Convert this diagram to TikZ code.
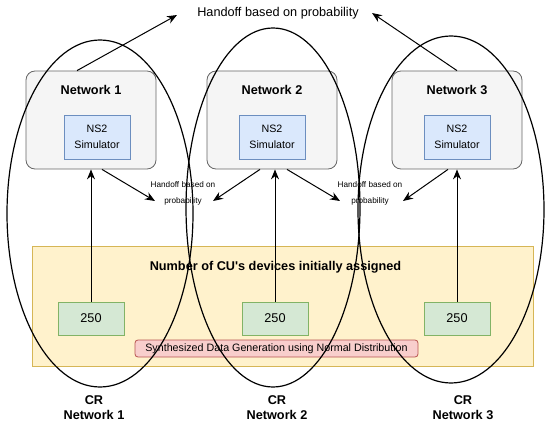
\documentclass[tikz,border=0pt]{standalone}
\usepackage{fontspec}
\setmainfont{Liberation Sans}
\usepackage{xcolor}
\usepackage{tikz}
\usetikzlibrary{arrows,arrows.meta,shapes,calc,positioning}
\definecolor{colorNET}{HTML}{F5F5F5}
\definecolor{colorNETd}{HTML}{666666}
\definecolor{colorSIM}{HTML}{DAE8FC}
\definecolor{colorSIMd}{HTML}{6C8EBF}
\definecolor{colorCU}{HTML}{D5E8D4}
\definecolor{colorCUd}{HTML}{82B366}
\definecolor{colorPOOL}{HTML}{FFF2CC}
\definecolor{colorPOOLd}{HTML}{D6B656}
\definecolor{colorGEN}{HTML}{F8CECC}
\definecolor{colorGENd}{HTML}{B85450}
\tikzset{
   every path/.style={>={Stealth[length=10pt,width=8pt]}},
   link/.style={->,draw=black,line width=1pt},
   crzone/.style={draw=black,ellipse,line width=1.2pt,inner sep=0pt},
}

\begin{document}
\begin{tikzpicture}[x=1pt, y=-1pt,
    net/.style={draw=colorNETd, fill=colorNET, rounded corners=9pt, line width=0.8pt,
                minimum width=130pt, minimum height=98pt},
    nettitle/.style={font=\fontsize{12.7}{15}\selectfont\bfseries},
    sim/.style={draw=colorSIMd, fill=colorSIM, line width=0.8pt, minimum width=66pt,
                minimum height=44pt, inner sep=0pt, align=center, font=\fontsize{10.7}{16}\selectfont},
    cu/.style={draw=colorCUd, fill=colorCU, line width=0.8pt, minimum width=66pt,
               minimum height=33pt, font=\fontsize{12.7}{15}\selectfont},
    crlabel/.style={align=center, font=\fontsize{12.7}{15}\selectfont\bfseries},
    hand/.style={align=center, inner sep=0pt, font=\fontsize{8.2}{16}\selectfont},
    >={Stealth[length=10pt,width=8pt]}
]
\useasboundingbox (0,0) rectangle (550,428);

% ------------------------------------------------------------
% CU pool and data generation
% ------------------------------------------------------------
\node[draw=colorPOOLd, fill=colorPOOL, line width=0.8pt, minimum width=501pt,
      minimum height=120pt] (pool) at (282.5,306) {};
\node[font=\fontsize{12.7}{15}\selectfont\bfseries] (pooltitle) at (275.5,267)
      {Number of CU\textquotesingle s devices initially assigned};
\node[draw=colorGENd, fill=colorGEN, rounded corners=3pt, line width=0.8pt,
      minimum width=283pt, minimum height=17pt, inner sep=0pt,
      font=\fontsize{10.7}{13}\selectfont] (gen) at (276.5,348.5)
      {Synthesized Data Generation using Normal Distribution};

\node[cu] (cu1) at (91,318.5)  {250};
\node[cu] (cu2) at (275,318.5) {250};
\node[cu] (cu3) at (457,318.5) {250};

% ------------------------------------------------------------
% Networks
% ------------------------------------------------------------
\node[net] (net1) at (91,120)  {};
\node[net] (net2) at (272,120) {};
\node[net] (net3) at (457,120) {};

\node[nettitle] (nt1) at (91,90)  {Network 1};
\node[nettitle] (nt2) at (272,90) {Network 2};
\node[nettitle] (nt3) at (457,90) {Network 3};

\node[sim] (sim1) at (97,137)  {NS2\\Simulator};
\node[sim] (sim2) at (272,137) {NS2\\Simulator};
\node[sim] (sim3) at (457,137) {NS2\\Simulator};

% CU -> network
\draw[link] (cu1.north) to (cu1.north |- net1.south);
\draw[link] (cu2.north) to (cu2.north |- net2.south);
\draw[link] (cu3.north) to (cu3.north |- net3.south);

% ------------------------------------------------------------
% Handoff labels
% ------------------------------------------------------------
\node[font=\fontsize{12.7}{15}\selectfont] (hand) at (278,13) {Handoff based on probability};
\node[hand] (hand1) at (183,193) {Handoff based on\\probability};
\node[hand] (hand2) at (370,193) {Handoff based on\\probability};

\coordinate (top1) at (177,15);
\coordinate (top3) at (372,13);
\coordinate (h1a) at (155,201);
\coordinate (h1b) at (213,201);
\coordinate (h2a) at (340,201);
\coordinate (h2b) at (403,201);

\draw[link] ([xshift=-14pt]net1.north) to (top1);
\draw[link] (net3.north) to (top3);
\draw[link] ([xshift=11pt]net1.south) to (h1a);
\draw[link] ([xshift=-12pt]net2.south) to (h1b);
\draw[link] ([xshift=15pt]net2.south) to (h2a);
\draw[link] ([xshift=-9pt]net3.south) to (h2b);

% ------------------------------------------------------------
% CR networks
% ------------------------------------------------------------
\node[crzone, minimum width=186pt, minimum height=347pt] (cr1) at (100,213.5) {};
\node[crzone, minimum width=174pt, minimum height=359pt] (cr2) at (273,207.5) {};
\node[crzone, minimum width=186pt, minimum height=347pt] (cr3) at (451,209.5) {};

\node[crlabel] (crl1) at (94,408)  {CR\\Network 1};
\node[crlabel] (crl2) at (277,408) {CR\\Network 2};
\node[crlabel] (crl3) at (463,408) {CR\\Network 3};
\end{tikzpicture}
\end{document}
